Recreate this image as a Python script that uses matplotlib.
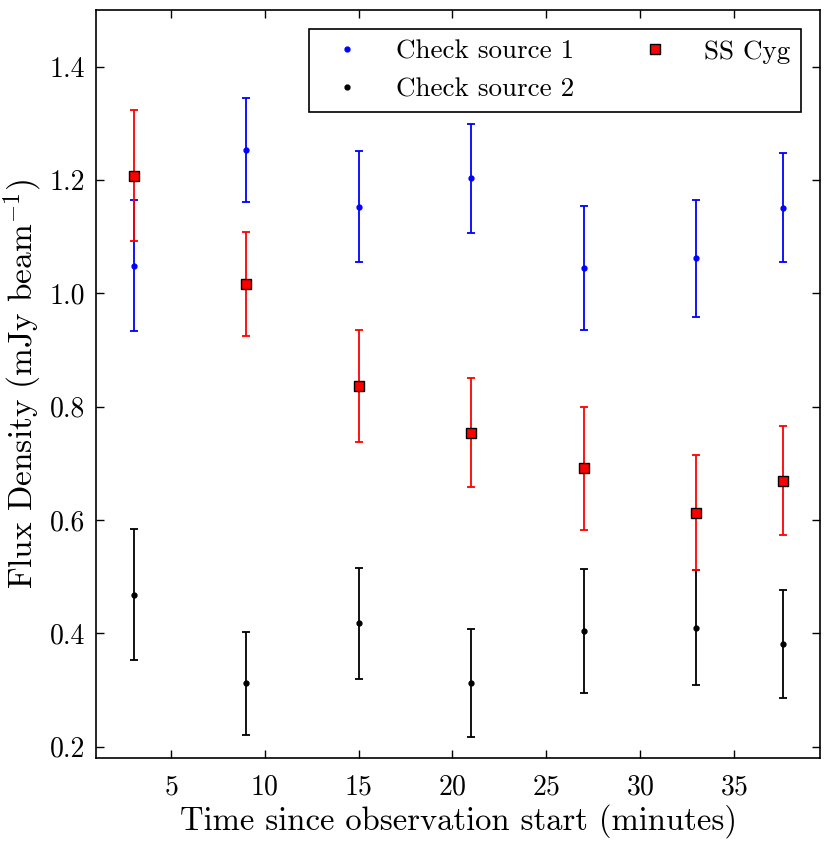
import matplotlib
matplotlib.use('Agg')
import matplotlib.pyplot as plt

# fonte tipo LaTeX (Computer Modern)
plt.rcParams['font.family'] = 'serif'
plt.rcParams['font.serif'] = ['cmr10']
plt.rcParams['mathtext.fontset'] = 'cm'
plt.rcParams['axes.formatter.use_mathtext'] = True

# tempos (minutos)
tempo = [3, 9, 15, 21, 27, 33, 37.6]

# fonte de verificacao 1
cs1 = [1.049, 1.253, 1.153, 1.203, 1.045, 1.062, 1.151]
cs1_err = [0.116, 0.091, 0.098, 0.096, 0.110, 0.103, 0.096]

# fonte de verificacao 2
cs2 = [0.468, 0.312, 0.418, 0.312, 0.404, 0.410, 0.381]
cs2_err = [0.116, 0.091, 0.098, 0.096, 0.109, 0.102, 0.096]

# SS Cyg
ss = [1.208, 1.016, 0.836, 0.754, 0.691, 0.613, 0.669]
ss_err = [0.116, 0.092, 0.099, 0.096, 0.109, 0.102, 0.096]

fig = plt.figure(figsize=(8.3, 8.43), dpi=100)
ax = fig.add_axes([0.1157, 0.101, 0.8723, 0.887])

eb = dict(fmt='none', elinewidth=1.3, capsize=3, capthick=1.3)
ax.errorbar(tempo, cs1, yerr=cs1_err, ecolor='blue', **eb)
ax.errorbar(tempo, cs2, yerr=cs2_err, ecolor='black', **eb)
ax.errorbar(tempo, ss, yerr=ss_err, ecolor='red', **eb)

ax.plot(tempo, cs1, '.', color='blue', markersize=7, label='Check source 1')
ax.plot(tempo, cs2, '.', color='black', markersize=7, label='Check source 2')
ax.plot(tempo, ss, 's', color='red', markeredgecolor='black', markersize=6.5,
        label='SS Cyg')

ax.set_xlim(1, 39.6)
ax.set_ylim(0.18, 1.5)
ax.set_xticks([5, 10, 15, 20, 25, 30, 35])
ax.set_yticks([0.2, 0.4, 0.6, 0.8, 1.0, 1.2, 1.4])
ax.set_yticklabels(['0.2', '0.4', '0.6', '0.8', '1.0', '1.2', '1.4'])
ax.tick_params(direction='in', top=True, right=True, length=5.5, width=1,
               labelsize=20)
ax.tick_params(axis='x', pad=12)
ax.tick_params(axis='y', pad=8)
for s in ax.spines.values():
    s.set_linewidth(1.2)

ax.set_xlabel('Time since observation start (minutes)', fontsize=23.5,
              labelpad=2)
ax.set_ylabel('Flux Density (mJy beam$^{-1}$)', fontsize=24)

leg = ax.legend(loc='upper right', ncol=2, numpoints=1, fontsize=19.5,
                fancybox=False, edgecolor='black', framealpha=1,
                borderaxespad=0.7)
leg.get_frame().set_linewidth(1.2)

plt.savefig('out.png', dpi=100)
plt.close()
